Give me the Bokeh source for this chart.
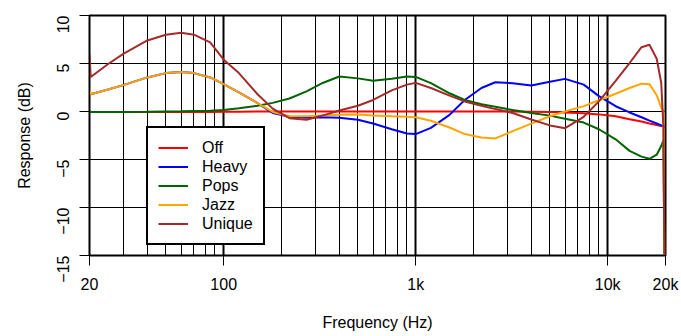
import math
from bokeh.plotting import figure
from bokeh.models import FixedTicker, Grid
from bokeh.embed import file_html
from bokeh.resources import INLINE

# ---- data ----
freq = [20, 20.3, 25, 30, 40, 50, 60, 70, 85, 100, 120, 150, 180, 220, 270, 330, 400, 500,
        600, 750, 900, 1000, 1200, 1500, 1800, 2200, 2600, 3200, 4000, 5000, 6000, 7500,
        9000, 11000, 13000, 15000, 16500, 18000, 19000, 19500, 20000]

off = [0.0, -0.05, -0.05, -0.05, -0.05, -0.05, -0.05, -0.05, -0.05, -0.03, -0.02, 0.0, 0.0,
       0.0, 0.0, 0.0, 0.0, 0.0, 0.0, 0.0, 0.0, 0.0, 0.0, 0.0, 0.0, 0.0, 0.0, 0.0, -0.02,
       -0.05, -0.1, -0.17, -0.3, -0.5, -0.8, -1.05, -1.25, -1.4, -1.5, -1.55, -1.6]

heavy = [2.2, 1.8, 2.3, 2.75, 3.55, 4.0, 4.12, 4.0, 3.55, 2.85, 2.0, 0.88, -0.15, -0.55,
         -0.65, -0.6, -0.65, -0.85, -1.25, -1.85, -2.3, -2.35, -1.7, -0.35, 1.2, 2.45, 3.05,
         2.95, 2.7, 3.1, 3.4, 2.8, 1.6, 0.55, -0.1, -0.6, -0.95, -1.25, -1.45, -1.55, -1.65]

pops = [0.0, -0.05, -0.05, -0.05, -0.03, 0.0, 0.02, 0.05, 0.08, 0.15, 0.35, 0.6, 0.9, 1.35,
        2.1, 3.0, 3.65, 3.45, 3.2, 3.4, 3.65, 3.6, 2.95, 1.9, 1.2, 0.75, 0.5, 0.15, -0.15,
        -0.43, -0.75, -1.15, -1.85, -2.9, -4.1, -4.7, -4.93, -4.5, -3.6, -3.0, -30.0]

jazz = [2.2, 1.8, 2.3, 2.75, 3.55, 4.0, 4.12, 4.0, 3.55, 2.85, 2.0, 0.88, -0.05, -0.5,
        -0.5, -0.42, -0.35, -0.3, -0.42, -0.5, -0.55, -0.6, -0.97, -1.67, -2.35, -2.7, -2.8,
        -2.05, -1.27, -0.5, 0.0, 0.56, 1.17, 1.85, 2.45, 2.9, 2.85, 1.7, 0.4, 0.0, -30.0]

unique = [6.0, 3.6, 4.95, 6.0, 7.4, 8.0, 8.2, 8.0, 7.2, 5.4, 4.0, 1.8, 0.3, -0.7, -0.85,
          -0.4, 0.1, 0.6, 1.2, 2.2, 2.8, 2.98, 2.45, 1.65, 1.05, 0.6, 0.25, -0.15, -0.83,
          -1.45, -1.74, -0.55, 1.05, 3.2, 5.05, 6.7, 6.95, 5.5, 3.0, -1.5, -30.0]

series_names = ["Off", "Heavy", "Pops", "Jazz", "Unique"]
series_colors = ["#FF0000", "#0000FF", "#006400", "#FFA500", "#A52A2A"]

x_ticks = [20, 100, 1000, 10000, 20000]
x_tick_labels = ["20", "100", "1k", "10k", "20k"]
y_ticks = [-15, -10, -5, 0, 5, 10]
y_tick_labels = ["\u221215", "\u221210", "\u22125", "0", "5", "10"]

grid_minor = [20, 30, 40, 50, 60, 70, 80, 90, 200, 300, 400, 500, 600, 700, 800, 900,
              2000, 3000, 4000, 5000, 6000, 7000, 8000, 9000, 20000]
grid_decades = [100, 1000, 10000]

FONT = "Liberation Sans"

p = figure(width=681, height=336, x_axis_type="log", x_range=(20, 20000), y_range=(-15, 10),
           output_backend="svg", toolbar_location=None,
           min_border_left=89, min_border_right=16, min_border_top=15, min_border_bottom=81)
p.background_fill_color = "white"
p.border_fill_color = "white"
p.outline_line_color = "black"
p.outline_line_width = 2
p.outline_line_alpha = 1.0

# grids
p.xgrid.ticker = FixedTicker(ticks=grid_minor)
p.xgrid.grid_line_color = "black"
p.xgrid.grid_line_width = 1
p.xgrid.grid_line_alpha = 1.0
g2 = Grid(dimension=0, ticker=FixedTicker(ticks=grid_decades),
          grid_line_color="black", grid_line_width=2)
p.add_layout(g2)
p.ygrid.ticker = FixedTicker(ticks=y_ticks)
p.ygrid.grid_line_color = "black"
p.ygrid.grid_line_width = 1
p.ygrid.grid_line_alpha = 1.0

# lines
for name, vals, col in zip(series_names, [off, heavy, pops, jazz, unique], series_colors):
    p.line(freq, vals, line_color=col, line_width=2, legend_label=name)

# axes
xa = p.xaxis[0]
xa.ticker = FixedTicker(ticks=x_ticks)
xa.major_label_overrides = {t: l for t, l in zip(x_ticks, x_tick_labels)}
xa.axis_label = "Frequency (Hz)"
ya = p.yaxis[0]
ya.ticker = FixedTicker(ticks=y_ticks)
ya.major_label_overrides = {t: l for t, l in zip(y_ticks, y_tick_labels)}
ya.major_label_orientation = math.pi / 2
ya.axis_label = "Response (dB)"

for ax in (xa, ya):
    ax.axis_line_color = "black"
    ax.axis_line_width = 1
    ax.major_tick_line_color = "black"
    ax.major_tick_line_width = 1
    ax.major_tick_out = 10
    ax.major_tick_in = 0
    ax.minor_tick_out = 0
    ax.minor_tick_in = 0
    ax.major_label_text_font = FONT
    ax.major_label_text_font_size = "16px"
    ax.major_label_text_color = "black"
    ax.axis_label_text_font = FONT
    ax.axis_label_text_font_size = "16px"
    ax.axis_label_text_font_style = "normal"
    ax.axis_label_text_color = "black"

xa.major_label_standoff = 10
xa.axis_label_standoff = 18
ya.major_label_standoff = 17
ya.axis_label_standoff = 15

# legend
lg = p.legend[0]
lg.location = (57, 10)
lg.border_line_color = "black"
lg.border_line_width = 2
lg.border_line_alpha = 1.0
lg.background_fill_color = "white"
lg.background_fill_alpha = 1.0
lg.label_text_font = FONT
lg.label_text_font_size = "16px"
lg.label_text_color = "black"
lg.glyph_width = 30
lg.glyph_height = 19
lg.label_height = 19
lg.spacing = 0
lg.padding = 10
lg.margin = 0
lg.label_standoff = 14

open("out.html", "w").write(file_html(p, INLINE))
